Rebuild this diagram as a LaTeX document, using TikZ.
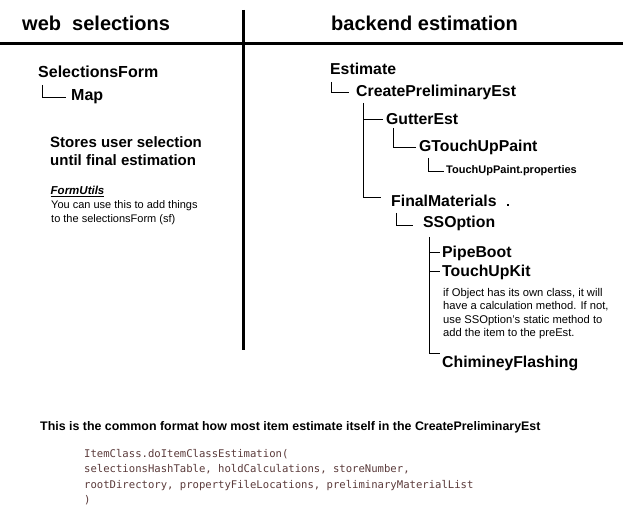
\documentclass[tikz,border=0pt]{standalone}
\usepackage{fontspec}
\setmainfont{Liberation Sans}
\setmonofont{DejaVu Sans Mono}
\definecolor{codecol}{RGB}{90,58,58}
\begin{document}
\begin{tikzpicture}[x=1pt,y=-1pt,
  lbl/.style={inner sep=0pt, anchor=base west},
  head/.style={lbl, font=\fontsize{20}{24}\selectfont\bfseries},
  cls/.style={lbl, font=\fontsize{15.8}{19}\selectfont\bfseries},
  blk/.style={inner sep=0pt, anchor=north west, align=left},
  tree/.style={line width=1pt},
  divider/.style={line width=3pt}]
\useasboundingbox (0,0) rectangle (623,529);

% headers and dividers
\node[head] (hweb) at (22,31) {web~~selections};
\node[head] (hback) at (331,31) {backend estimation};
\coordinate (divL) at (0,43.3);
\coordinate (divR) at (623,43.3);
\coordinate (divT) at (243.3,10);
\coordinate (divB) at (243.3,350);
\draw[divider] (divL) -- (divR);
\draw[divider] (divT) -- (divB);

% left side
\node[lbl, font=\fontsize{16}{19}\selectfont\bfseries] (sf) at (38,78) {SelectionsForm};
\node[lbl, font=\fontsize{16}{19}\selectfont\bfseries] (map) at (71,101) {Map};
\draw[tree] ([shift={(4,7)}]sf.base west) |- ([xshift=-5pt]map.west);

\node[blk, font=\fontsize{15}{18}\selectfont\bfseries] (stores) at (50,136)
  {Stores user selection\\until final estimation};
\node[lbl, font=\fontsize{11.5}{13}\selectfont\bfseries\itshape] (fu) at (50.5,195) {\underline{FormUtils}};
\node[blk, font=\fontsize{11}{14}\selectfont] (fudesc) at (51,200)
  {You can use this to add things\\to the selectionsForm (sf)};

% right side tree
\node[cls] (est) at (330,75) {Estimate};
\node[cls] (create) at (356,97) {CreatePreliminaryEst};
\node[cls] (gutter) at (386,125) {GutterEst};
\node[cls] (gtouch) at (419,152) {GTouchUpPaint};
\node[lbl, font=\fontsize{11}{13}\selectfont\bfseries] (props) at (446,174) {TouchUpPaint.properties};
\node[cls] (final) at (391,207) {FinalMaterials};
\fill (507.3,204.3) rectangle (509,206);
\node[cls] (ssopt) at (423,228) {SSOption};
\node[cls] (pipe) at (442,257) {PipeBoot};
\node[cls] (tkit) at (442,276) {TouchUpKit};
\node[blk, font=\fontsize{11.2}{13.4}\selectfont] (tnote) at (443,288)
  {if Object has its own class, it will\\have a calculation method. If not,\\use SSOption's static method to\\add the item to the preEst.};
\node[cls] (chim) at (442,367) {ChimineyFlashing};

\coordinate (estS) at ([shift={(1,7)}]est.base west);
\coordinate (createS) at ([shift={(7,6)}]create.base west);
\coordinate (gutterS) at ([shift={(7,3)}]gutter.base west);
\coordinate (gtouchS) at ([shift={(9,6)}]gtouch.base west);
\coordinate (finalS) at ([shift={(5,6)}]final.base west);
\coordinate (ssoptS) at ([shift={(6,9)}]ssopt.base west);

\draw[tree] (estS) |- ([xshift=-7pt]create.west);
\draw[tree] (createS) |- ([shift={(-10,-4)}]final.west);
\draw[tree] (createS |- gutter.west) -- ([xshift=-3pt]gutter.west);
\draw[tree] (gutterS) |- ([xshift=-3pt]gtouch.west);
\draw[tree] (gtouchS) |- ([xshift=-2pt]props.west);
\draw[tree] (finalS) |- ([shift={(-10,2)}]ssopt.west);
\draw[tree] (ssoptS) |- ([shift={(-2,-9)}]chim.west);
\draw[tree] (ssoptS |- pipe.west) -- ([xshift=-2pt]pipe.west);
\draw[tree] (ssoptS |- tkit.west) -- ([xshift=-2pt]tkit.west);

% bottom
\node[lbl, font=\fontsize{12.4}{15}\selectfont\bfseries] (common) at (40,430)
  {This is the common format how most item estimate itself in the CreatePreliminaryEst};
\node[blk, font=\fontsize{10.6}{15.5}\selectfont\ttfamily, text=codecol] (code) at (84,449)
  {ItemClass.doItemClassEstimation(\\selectionsHashTable, holdCalculations, storeNumber,\\rootDirectory, propertyFileLocations, preliminaryMaterialList\\)};
\end{tikzpicture}
\end{document}
